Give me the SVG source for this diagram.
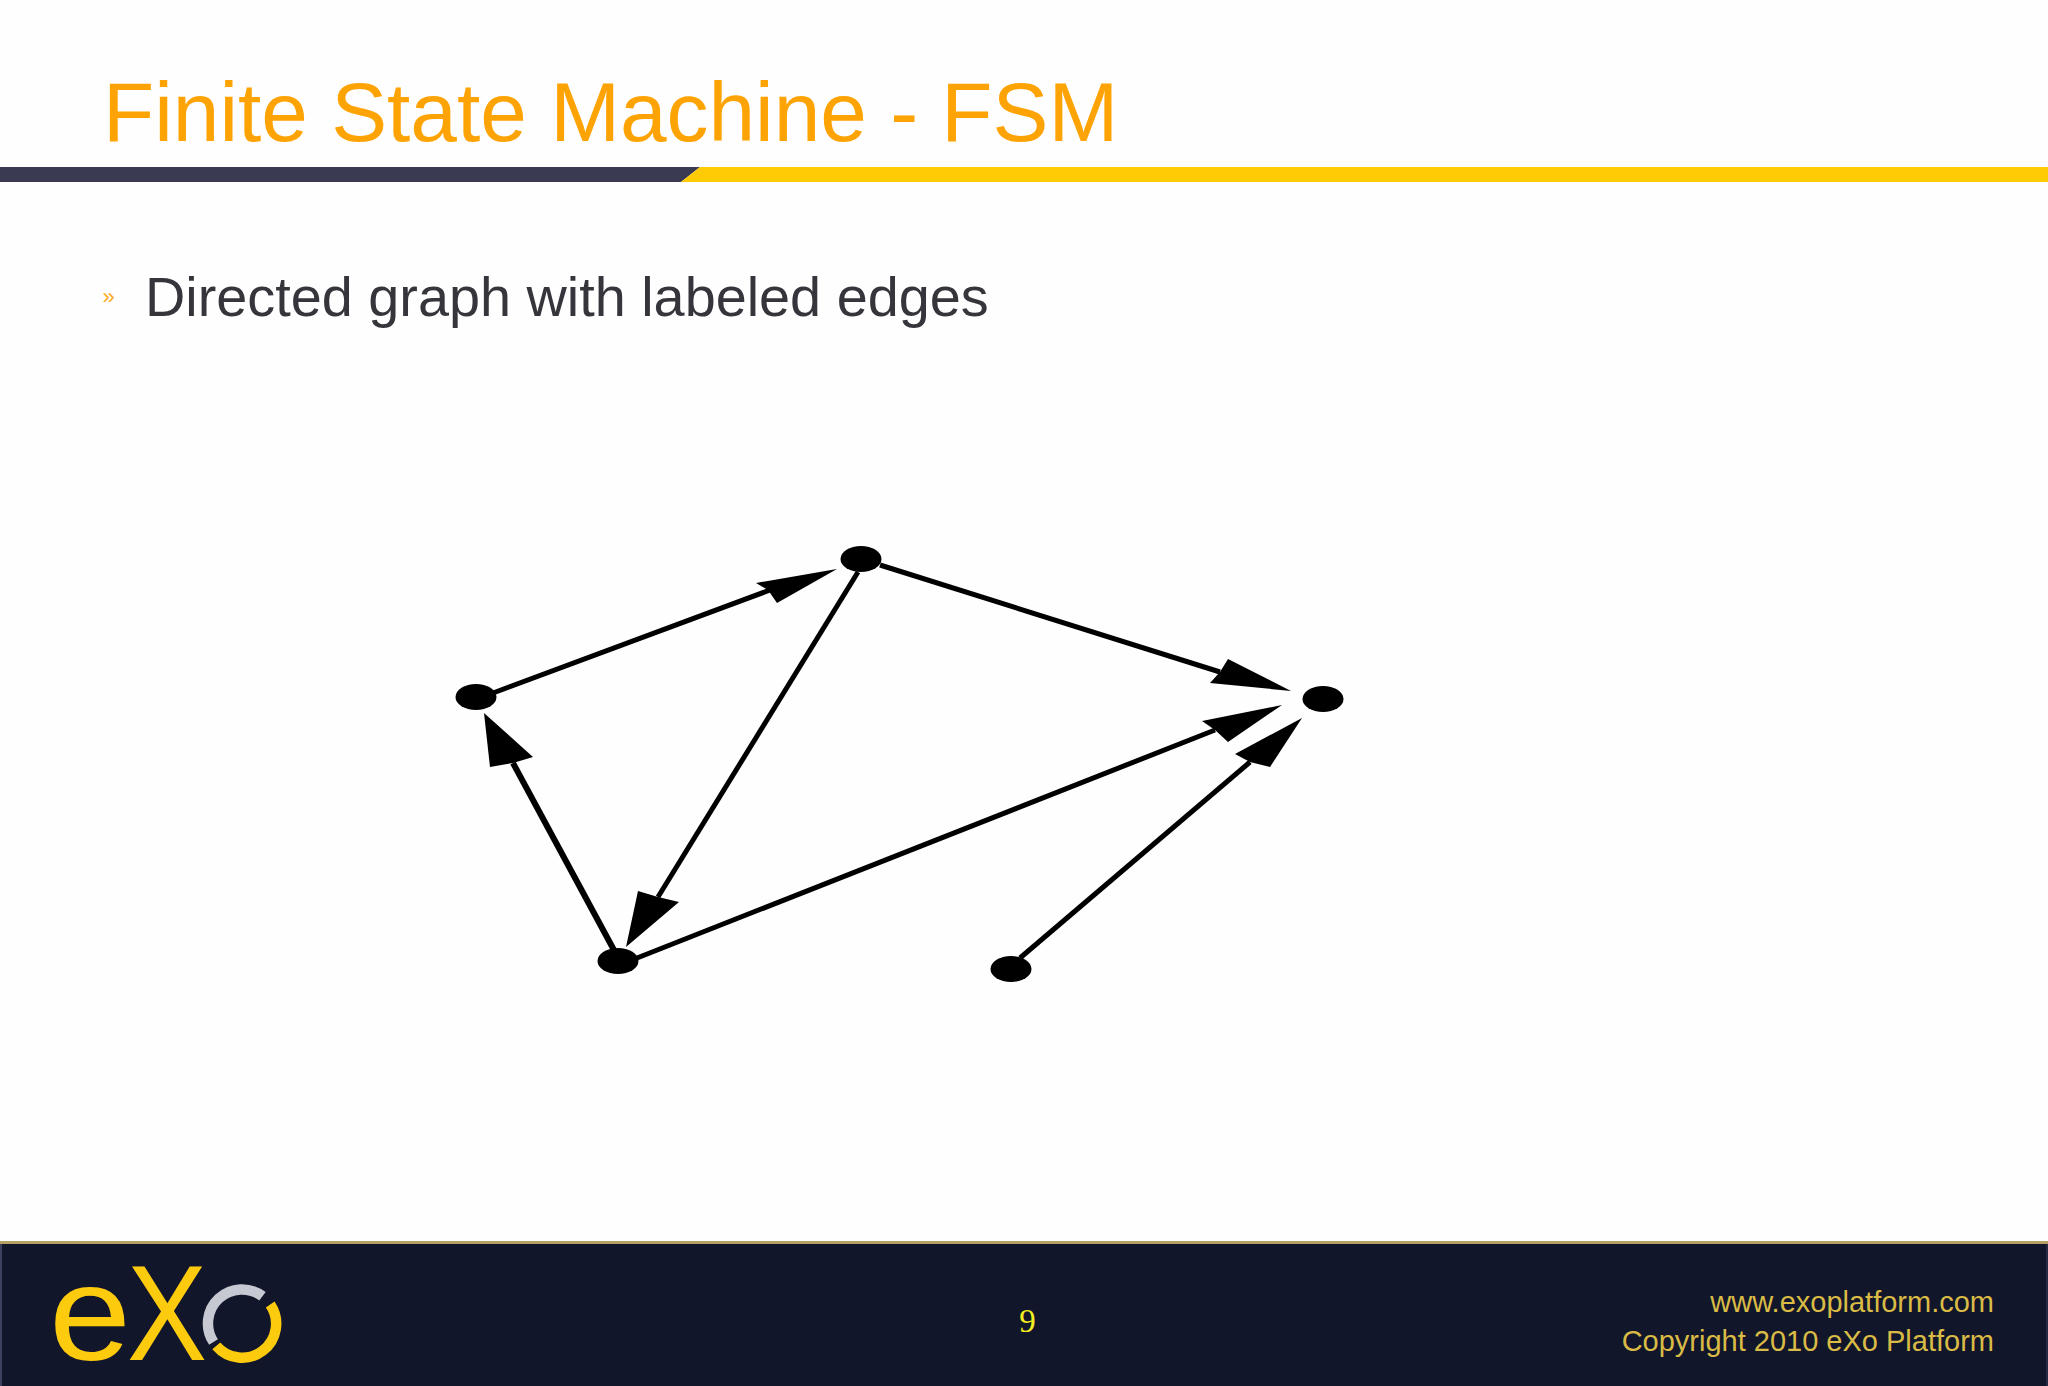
<svg xmlns="http://www.w3.org/2000/svg" width="2048" height="1386" viewBox="0 0 2048 1386">
<style>
.sans{font-family:"Liberation Sans",Arial,sans-serif}
.title{font-size:83.8px;fill:#fea304}
.body{font-size:55.8px;fill:#35353b}
.foot{font-size:29px;fill:#d9bb45;text-anchor:end}
.logo{fill:#fdcb0e}
.ring{fill:none;stroke-width:10.500}
.edge{stroke:#000;stroke-width:5;fill:none}
.head{fill:#000}
.node{fill:#000}
</style>
<rect width="2048" height="1386" fill="#fefefe"/>
<g id="header">
<text class="sans title" x="103" y="141">Finite State Machine - FSM</text>
<polygon points="0,167 700,167 681,182 0,182" fill="#3a3b52"/>
<polygon points="700,167 2048,167 2048,182 681,182" fill="#ffcb05"/>
</g>
<g id="bullet">
<text class="sans" x="102.500" y="304" font-size="22" fill="#f9ac1f">»</text>
<text class="sans body" x="145" y="316">Directed graph with labeled edges</text>
</g>
<g id="connectors">
<line class="edge" x1="493" y1="693" x2="770" y2="590"/>
<polygon class="head" points="837,569 756,583 768,590 777,603"/>
<line class="edge" x1="858" y1="572" x2="658" y2="897"/>
<polygon class="head" points="626,947 638,891 658,897 679,902"/>
<line class="edge" style="stroke-width:6" x1="615" y1="952" x2="513" y2="763"/>
<polygon class="head" points="484,713 490,767 513,763 533,757"/>
<line class="edge" x1="880" y1="565" x2="1220" y2="672"/>
<polygon class="head" points="1291,691 1228,659 1220,672 1210,683"/>
<line class="edge" x1="637" y1="958" x2="1215" y2="730"/>
<polygon class="head" points="1282,705 1202,721 1215,730 1228,742"/>
<line class="edge" x1="1020" y1="958" x2="1250" y2="762"/>
<polygon class="head" points="1302,718 1235,754 1250,762 1270,767"/>
</g>
<g id="node-left"><ellipse class="node" cx="476" cy="697" rx="20.500" ry="13"/></g>
<g id="node-top"><ellipse class="node" cx="861" cy="559" rx="20.500" ry="13"/></g>
<g id="node-bottom"><ellipse class="node" cx="618" cy="961" rx="20.500" ry="13"/></g>
<g id="node-right"><ellipse class="node" cx="1323" cy="699" rx="20.500" ry="13"/></g>
<g id="node-start"><ellipse class="node" cx="1011" cy="969" rx="20.500" ry="13"/></g>
<g id="footer">
<rect y="1241" width="2048" height="145" fill="#12162a"/>
<rect y="1241" width="2" height="145" fill="#3c4160"/>
<rect x="2046" y="1241" width="2" height="145" fill="#262b45"/>
<rect y="1241" width="2048" height="3" fill="#b4a164"/>
<text class="sans logo" x="49" y="1360" font-size="135" textLength="82" lengthAdjust="spacingAndGlyphs">e</text>
<text class="sans logo" x="127" y="1360" font-size="135" textLength="80" lengthAdjust="spacingAndGlyphs">X</text>
<path class="ring" d="M213.500,1342 A34,34 0 0 1 262.500,1296.300" stroke="#c6c9d1"/>
<path class="ring" d="M270.200,1304.500 A34,34 0 0 1 216.300,1345.800" stroke="#fdcb0e"/>
<text x="1027.500" y="1332" font-family="'Liberation Serif',serif" font-size="33" fill="#f5ee20" text-anchor="middle">9</text>
<text class="sans foot" x="1994" y="1312">www.exoplatform.com</text>
<text class="sans foot" x="1994" y="1351">Copyright 2010 eXo Platform</text>
</g>
</svg>
